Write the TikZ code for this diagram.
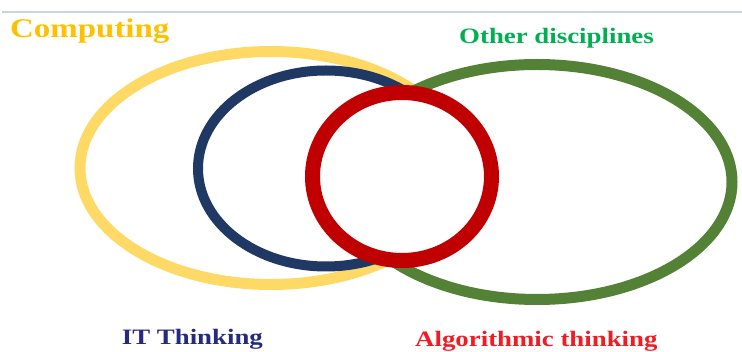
\documentclass[tikz,border=0pt]{standalone}
\usepackage{fontspec}
\setmainfont{Liberation Serif}[FakeStretch=1.22]
\usetikzlibrary{positioning}
\definecolor{ringyellow}{HTML}{FFD966}
\definecolor{ringblue}{HTML}{1F3864}
\definecolor{ringred}{HTML}{C00000}
\definecolor{ringgreen}{HTML}{538135}
\definecolor{txtyellow}{HTML}{FFC000}
\definecolor{txtgreen}{HTML}{00B050}
\definecolor{txtblue}{HTML}{232A80}
\definecolor{txtred}{HTML}{F01C24}
\definecolor{rulegray}{HTML}{C9D1E3}

\begin{document}
\begin{tikzpicture}[
    x=1pt, y=-1pt,
    ring/.style={draw=#1, fill=white},
    label/.style={
      anchor=base west, inner sep=0pt,
      font=\fontsize{22}{26}\selectfont\bfseries
    },
    biglabel/.style={
      label,
      font=\fontsize{27}{32}\selectfont\bfseries
    }
  ]
    \useasboundingbox (0,0) rectangle (742,352);

    % ── Top rule ─────────────────────────────────────────────────────────
    \draw[rulegray, line width=2pt] (2,12.3) -- (742,12.3);

    % ── Rings (back to front, white inside) ──────────────────────────────
    \draw[ring=ringyellow, line width=11pt] (271,168)   ellipse [x radius=191pt,  y radius=116.5pt];
    \draw[ring=ringgreen,  line width=11pt] (537,182)   ellipse [x radius=195pt,  y radius=117.5pt];
    \draw[ring=ringblue,   line width=10pt] (326,168.5) ellipse [x radius=128pt,  y radius=98pt];
    \draw[ring=ringred,    line width=15pt] (402,176.5) ellipse [x radius=89.5pt, y radius=84pt];

    % ── Labels ───────────────────────────────────────────────────────────
    \node[biglabel, text=txtyellow] (l_comp)  at (10,37.3)   {Computing};
    \node[label,    text=txtgreen]  (l_other) at (459,43.3)  {Other disciplines};
    \node[label,    text=txtblue]   (l_it)    at (121.7,345) {IT Thinking};
    \node[label,    text=txtred]    (l_algo)  at (415,346.7) {Algorithmic thinking};

  \end{tikzpicture}
\end{document}
